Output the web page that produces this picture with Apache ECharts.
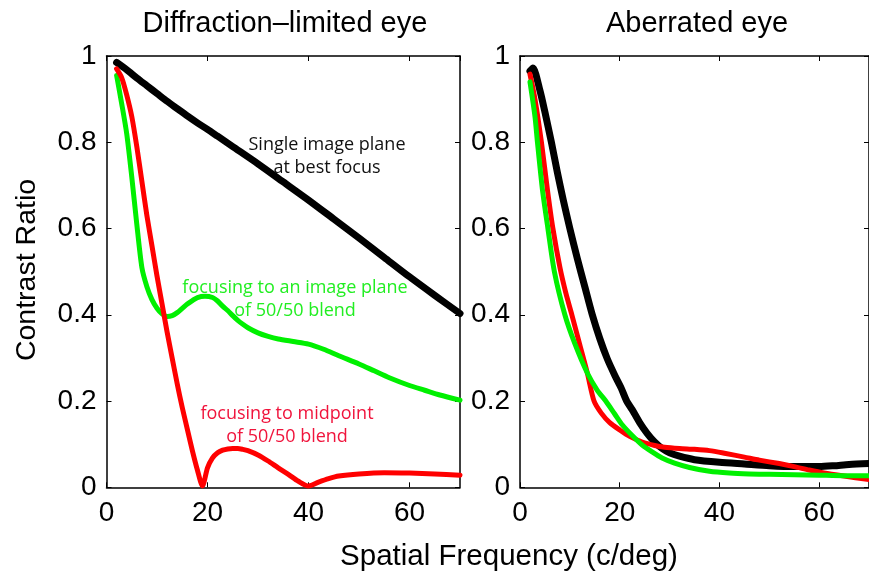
<!DOCTYPE html>
<html>
<head>
<meta charset="utf-8">
<style>
  html, body { margin: 0; padding: 0; background: #fff; }
  #chart { width: 869px; height: 578px; }
</style>
<script src="https://cdn.jsdelivr.net/npm/echarts@6/dist/echarts.min.js"></script>
</head>
<body>
<div id="chart"></div>
<script>
// Modulation transfer: contrast ratio vs spatial frequency (c/deg)

// Diffraction-limited eye
const diffSingle = [[2,0.985],[4,0.968],[6,0.949],[8,0.931],[10,0.913],[12,0.895],[14,0.878],[16,0.861],[18,0.845],[20,0.83],[22,0.814],[25,0.79],[30,0.75],[35,0.708],[40,0.666],[45,0.622],[50,0.578],[55,0.533],[60,0.488],[65,0.445],[70,0.403]];
const diffPlane = [[2,0.955],[3,0.89],[4,0.82],[5,0.72],[6,0.61],[7,0.51],[8,0.465],[9,0.435],[10,0.415],[11,0.402],[12,0.396],[13,0.398],[14,0.405],[15,0.415],[16,0.425],[17,0.433],[18,0.44],[19.5,0.443],[21,0.44],[22,0.432],[23,0.42],[24,0.41],[25,0.398],[26,0.387],[27,0.378],[28,0.37],[30,0.358],[32,0.35],[34,0.344],[37,0.338],[40,0.332],[43,0.32],[46,0.305],[50,0.286],[53,0.27],[56,0.254],[60,0.236],[63,0.225],[66,0.214],[70,0.202]];
const diffMidpoint = [[2,0.97],[3,0.95],[4,0.91],[5,0.86],[6,0.79],[7,0.71],[8,0.63],[9,0.56],[10,0.49],[11,0.425],[12,0.36],[13,0.3],[14,0.24],[15,0.185],[16,0.135],[17,0.085],[18,0.04],[19,0.003],[20,0.045],[21,0.068],[22,0.08],[23,0.086],[24,0.089],[25,0.09],[26,0.09],[27,0.088],[28,0.085],[30,0.075],[32,0.061],[34,0.045],[36,0.03],[38,0.014],[40,0.003],[42,0.012],[44,0.02],[46,0.026],[50,0.031],[55,0.034],[60,0.033],[65,0.031],[70,0.028]];

// Aberrated eye
const aberSingle = [[2,0.965],[2.6,0.972],[4,0.92],[5,0.87],[6.3,0.8],[7.5,0.73],[8.7,0.665],[10,0.6],[11.5,0.53],[13,0.465],[14.5,0.4],[16,0.345],[17.5,0.298],[19,0.26],[20.3,0.23],[21.4,0.2],[22.5,0.18],[24,0.15],[25.5,0.125],[27,0.105],[28.5,0.09],[30,0.08],[32,0.072],[35,0.064],[40,0.058],[45,0.054],[50,0.05],[55,0.048],[60,0.048],[63,0.05],[66,0.053],[70,0.055]];
const aberMidpoint = [[2,0.958],[3,0.9],[4.3,0.8],[5.5,0.69],[6.6,0.6],[8,0.51],[9.2,0.45],[10.4,0.4],[12,0.33],[13.5,0.265],[14.85,0.2],[16.3,0.172],[18,0.15],[20,0.133],[22,0.118],[24.5,0.105],[27,0.097],[29,0.093],[32,0.09],[35,0.088],[38,0.085],[41,0.079],[45,0.07],[48,0.063],[52,0.055],[55,0.048],[58,0.04],[61,0.033],[65,0.026],[70,0.018]];
const aberPlane = [[2,0.94],[3,0.86],[3.5,0.8],[4.5,0.69],[5.6,0.6],[6.9,0.5],[9,0.4],[11,0.333],[13.5,0.265],[15.5,0.225],[17.2,0.2],[19,0.17],[20.5,0.145],[22.5,0.12],[24.5,0.098],[26.5,0.082],[28.5,0.068],[31,0.056],[34,0.046],[38,0.037],[42,0.033],[46,0.031],[50,0.03],[55,0.029],[60,0.028],[65,0.027],[70,0.027]];

const panelTitles = ['Diffraction\u2013limited eye', 'Aberrated eye'];
const xName = 'Spatial Frequency (c/deg)';
const yName = 'Contrast Ratio';
const noteSingle = 'Single image plane\nat best focus';
const notePlane = 'focusing to an image plane\nof 50/50 blend';
const noteMidpoint = 'focusing to midpoint\nof 50/50 blend';

const AX_FONT = '"Liberation Sans", Arial, Helvetica, sans-serif';
const NOTE_FONT = '"Open Sans", sans-serif';
const BLACK = '#000000', GREEN = '#00f000', RED = '#ff0000';

const frame = { onZero: false, lineStyle: { color: '#000', width: 1.5 } };
const ticks = { inside: true, length: 5, lineStyle: { color: '#000', width: 1 } };

function xAxes(grid) {
  return [
    { gridIndex: grid, type: 'value', position: 'bottom', min: 0, max: 70, interval: 20,
      axisLine: frame, axisTick: ticks,
      axisLabel: { color: '#000', fontSize: 28, fontFamily: AX_FONT, margin: 12, showMaxLabel: false },
      splitLine: { show: false } },
    { gridIndex: grid, type: 'value', position: 'top', min: 0, max: 70, interval: 20,
      axisLine: frame, axisTick: ticks,
      axisLabel: { show: false }, splitLine: { show: false } }
  ];
}
function yAxes(grid) {
  return [
    { gridIndex: grid, type: 'value', position: 'left', min: 0, max: 1, interval: 0.2,
      axisLine: frame, axisTick: ticks,
      axisLabel: { color: '#000', fontSize: 28, fontFamily: AX_FONT, margin: 10 },
      splitLine: { show: false } },
    { gridIndex: grid, type: 'value', position: 'right', min: 0, max: 1, interval: 0.2,
      axisLine: frame, axisTick: ticks,
      axisLabel: { show: false }, splitLine: { show: false } }
  ];
}
function curve(data, color, width, xi, yi, z) {
  return { type: 'line', data: data, xAxisIndex: xi, yAxisIndex: yi, showSymbol: false, symbol: 'none',
    smooth: 0.25, z: z, lineStyle: { color: color, width: width, cap: 'round', join: 'round' },
    itemStyle: { color: color } };
}
function label(text, x, y, size, color, font, extra) {
  return Object.assign({ type: 'text', x: x, y: y, silent: true,
    style: { text: text, fill: color, fontSize: size, fontFamily: font,
      align: 'center', verticalAlign: 'middle', lineHeight: 23 } }, extra || {});
}

const chart = echarts.init(document.getElementById('chart'), null, { renderer: 'canvas' });
chart.setOption({
  animation: false,
  backgroundColor: '#fff',
  grid: [
    { left: 106.5, top: 56, width: 353.5, height: 431.3, containLabel: false },
    { left: 520, top: 56, width: 353.5, height: 431.3, containLabel: false }
  ],
  xAxis: xAxes(0).concat(xAxes(1)),
  yAxis: yAxes(0).concat(yAxes(1)),
  series: [
    curve(diffSingle, BLACK, 7, 0, 0, 3),
    curve(diffPlane, GREEN, 5, 0, 0, 4),
    curve(diffMidpoint, RED, 5, 0, 0, 5),
    curve(aberSingle, BLACK, 7, 2, 2, 3),
    curve(aberMidpoint, RED, 5, 2, 2, 4),
    curve(aberPlane, GREEN, 5, 2, 2, 5)
  ],
  graphic: [
    label(panelTitles[0], 285, 24, 29, '#000', AX_FONT),
    label(panelTitles[1], 697, 24, 29, '#000', AX_FONT),
    label(xName, 509, 557, 29.5, '#000', AX_FONT),
    label(yName, 27, 270, 28.5, '#000', AX_FONT, { rotation: Math.PI / 2 }),
    label(noteSingle, 327, 156, 18, '#111', NOTE_FONT),
    label(notePlane, 295, 299, 18, '#22ee22', NOTE_FONT),
    label(noteMidpoint, 287, 425, 18, '#f0143c', NOTE_FONT)
  ]
});
</script>
</body>
</html>
